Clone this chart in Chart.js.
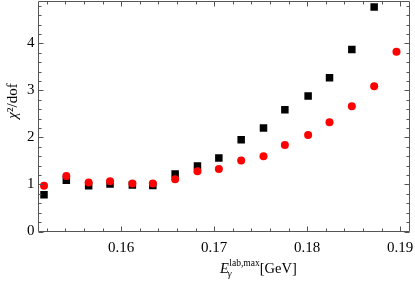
<!DOCTYPE html>
<html><head><meta charset="utf-8">
<script src="https://cdn.jsdelivr.net/npm/chart.js@4.4.0/dist/chart.umd.min.js"></script>
<style>html,body{margin:0;padding:0;background:#fff;overflow:hidden}#wrap{position:relative;width:415px;height:284px}</style>
</head><body><div id="wrap"><canvas id="c" width="415" height="284"></canvas></div>
<script>
const energies = [0.1517,0.1541,0.1565,0.1588,0.1612,0.1634,0.1658,0.1682,0.1705,0.1729,0.1753,0.1776,0.1801,0.1824,0.1848,0.1872,0.1896];
const chi2Black = [0.78,1.09,0.97,1.01,0.99,0.98,1.22,1.39,1.56,1.95,2.20,2.59,2.88,3.27,3.87,4.77,null];
const chi2Red = [0.97,1.18,1.04,1.07,1.02,1.02,1.11,1.28,1.33,1.51,1.60,1.84,2.05,2.32,2.66,3.09,3.82];
const xTicks = [0.16,0.17,0.18,0.19];
const yTicks = [0,1,2,3,4];
const xMinorTicks = [0.152,0.154,0.156,0.158,0.162,0.164,0.166,0.168,0.172,0.174,0.176,0.178,0.182,0.184,0.186,0.188,0.19];
const yMinorTicks = [0.2,0.4,0.6,0.8,1.2,1.4,1.6,1.8,2.2,2.4,2.6,2.8,3.2,3.4,3.6,3.8,4.2,4.4,4.6,4.8];

const SERIF = '"Liberation Serif", "DejaVu Serif", serif';

const framePlugin = {
  id: 'frame',
  afterDatasetsDraw(chart) {
    const ctx = chart.ctx, a = chart.chartArea;
    const xs = chart.scales.x, ys = chart.scales.y;
    ctx.save();
    ctx.strokeStyle = '#555';
    ctx.lineWidth = 1;
    ctx.beginPath();
    const L = Math.round(a.left)+0.5, R = Math.round(a.right)-0.5, T = Math.round(a.top)+0.5, B = Math.round(a.bottom)-0.5;
    ctx.rect(L, T, R-L, B-T);
    const tickX = (v, len) => {
      const p = Math.round(xs.getPixelForValue(v)) + 0.5;
      ctx.moveTo(p, B); ctx.lineTo(p, B - len);
      ctx.moveTo(p, T); ctx.lineTo(p, T + len);
    };
    const tickY = (v, len) => {
      const p = Math.round(ys.getPixelForValue(v)) + 0.5;
      ctx.moveTo(L, p); ctx.lineTo(L + len, p);
      ctx.moveTo(R, p); ctx.lineTo(R - len, p);
    };
    xTicks.forEach(v => tickX(v, 5));
    xMinorTicks.forEach(v => tickX(v, 3));
    yTicks.forEach(v => tickY(v, 5));
    yMinorTicks.forEach(v => tickY(v, 3));
    ctx.stroke();
    ctx.restore();
  },
  afterDraw(chart) {
    const ctx = chart.ctx;
    ctx.save();
    ctx.fillStyle = '#000';
    ctx.textBaseline = 'alphabetic';
    // x axis title
    let x = 220, y = 273;
    ctx.textAlign = 'left';
    ctx.font = 'italic 14.5px ' + SERIF;
    ctx.fillText('E', x, y);
    const ew = ctx.measureText('E').width;
    ctx.font = '9.5px ' + SERIF;
    ctx.fillText('lab,max', x + ew + 0.5, y - 7);
    const sw = ctx.measureText('lab,max').width;
    ctx.font = 'italic 9.5px ' + SERIF;
    ctx.fillText('γ', x + ew - 1, y + 4);
    ctx.font = '14.5px ' + SERIF;
    ctx.fillText('[GeV]', x + ew + 0.5 + sw, y);
    // y axis title
    ctx.translate(17, 101);
    ctx.rotate(-Math.PI/2);
    ctx.textAlign = 'left';
    const c1 = 'χ', rest = '²/dof';
    ctx.font = 'italic 15px ' + SERIF;
    const w1 = ctx.measureText(c1).width;
    ctx.font = '15px ' + SERIF;
    const w2 = ctx.measureText(rest).width;
    const start = -(w1 + w2)/2;
    ctx.font = 'italic 15px ' + SERIF;
    ctx.fillText(c1, start, 0);
    ctx.font = '15px ' + SERIF;
    ctx.fillText(rest, start + w1, 0);
    ctx.restore();
  }
};

new Chart(document.getElementById('c'), {
  type: 'scatter',
  data: {
    datasets: [
      {
        label: 'black',
        data: energies.map((e,i) => ({x: e, y: chi2Black[i]})),
        pointStyle: 'rect',
        pointRadius: 5.3,
        pointBorderWidth: 0,
        backgroundColor: '#000',
        borderColor: '#000',
        order: 2
      },
      {
        label: 'red',
        data: energies.map((e,i) => ({x: e, y: chi2Red[i]})),
        pointStyle: 'circle',
        pointRadius: 4,
        pointBorderWidth: 0,
        backgroundColor: '#ff0000',
        borderColor: '#ff0000',
        order: 1
      }
    ]
  },
  options: {
    responsive: false,
    animation: false,
    devicePixelRatio: 1,
    layout: { autoPadding: false, padding: { left: 0, right: 5.5, top: 1, bottom: 0 } },
    plugins: { legend: { display: false }, tooltip: { enabled: false } },
    scales: {
      x: {
        type: 'linear',
        min: 0.151, max: 0.191,
        afterBuildTicks: s => { s.ticks = xTicks.map(v => ({ value: v })); },
        afterFit: s => { s.height = 52.5; s.paddingLeft = 0; s.paddingRight = 0; },
        grid: { display: false, drawTicks: false },
        border: { display: false },
        ticks: {
          color: '#000', padding: 8, maxRotation: 0, autoSkip: false,
          font: { family: SERIF, size: 15 },
          callback: v => v.toFixed(2)
        }
      },
      y: {
        type: 'linear',
        min: 0, max: 4.9,
        afterBuildTicks: s => { s.ticks = yTicks.map(v => ({ value: v })); },
        afterFit: s => { s.width = 37.5; s.paddingTop = 0; s.paddingBottom = 0; },
        grid: { display: false, drawTicks: false },
        border: { display: false },
        ticks: {
          color: '#000', padding: 3, autoSkip: false,
          font: { family: SERIF, size: 15 },
          callback: v => String(v)
        }
      }
    }
  },
  plugins: [framePlugin]
});
</script>
</body></html>
